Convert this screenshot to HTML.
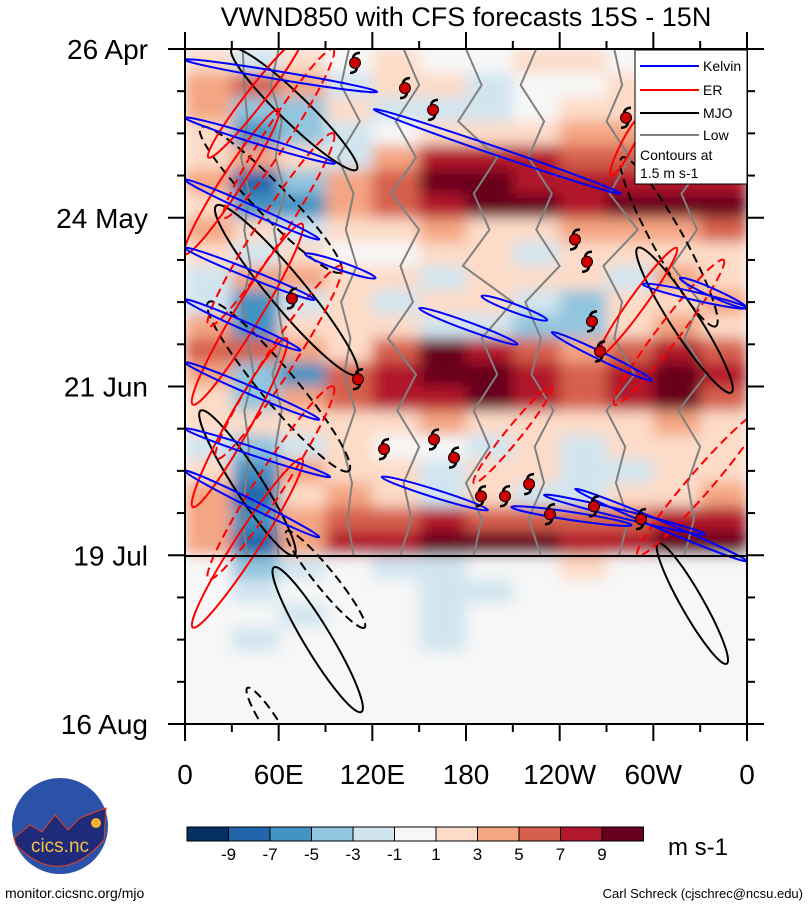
<!DOCTYPE html>
<html><head><meta charset="utf-8"><style>
html,body{margin:0;padding:0;background:#fff;}
svg{display:block;font-family:"Liberation Sans",Arial,sans-serif;}
</style></head><body>
<svg id="chart" width="809" height="907" viewBox="0 0 809 907" xmlns="http://www.w3.org/2000/svg">
<defs>
<clipPath id="plotclip"><rect x="185" y="49" width="562" height="675"/></clipPath>
<filter id="smooth" x="-5%" y="-5%" width="110%" height="110%"><feGaussianBlur stdDeviation="7"/></filter>
</defs>
<text x="466" y="26" font-size="27" text-anchor="middle">VWND850 with CFS forecasts  15S - 15N</text>
<g id="field" clip-path="url(#plotclip)"><rect x="185" y="49" width="562" height="675" fill="#f7f7f7"/><g id="cells" filter="url(#smooth)"></g></g>
<g id="overlays" clip-path="url(#plotclip)"></g>
<line x1="185" y1="556" x2="747" y2="556" stroke="#000" stroke-width="2"/>
<rect x="185" y="49" width="562" height="675" fill="none" stroke="#000" stroke-width="2"/>
<g id="axes"></g>
<g>
<rect x="635" y="50" width="112" height="134" fill="#fff" stroke="#000" stroke-width="1"/>
<line x1="640" y1="66" x2="699" y2="66" stroke="#0000ff" stroke-width="2"/><text x="703" y="71" font-size="14">Kelvin</text>
<line x1="640" y1="90" x2="699" y2="90" stroke="#ff0000" stroke-width="2"/><text x="703" y="95" font-size="14">ER</text>
<line x1="640" y1="113" x2="699" y2="113" stroke="#000" stroke-width="2"/><text x="703" y="118" font-size="14">MJO</text>
<line x1="640" y1="135" x2="699" y2="135" stroke="#808080" stroke-width="2"/><text x="703" y="140" font-size="14">Low</text>
<text x="640" y="160" font-size="14">Contours at</text>
<text x="640" y="178" font-size="14">1.5 m s-1</text>
</g>
<g id="colorbar"></g>
<text x="668" y="855" font-size="24">m s-1</text>
<g>
<circle cx="60" cy="826" r="48" fill="#2a52a8"/>
<path d="M14 838 L30 825 L42 832 L55 815 L68 830 L80 818 L95 812 L106 808 L104 840 Q60 890 16 845Z" fill="#1f2a7a" stroke="#e04020" stroke-width="1"/>
<circle cx="96" cy="823" r="5" fill="#f5b030"/>
<text x="60" y="852" font-size="19" fill="#f5c040" text-anchor="middle">cics.nc</text>
</g>
<text x="5" y="898" font-size="14">monitor.cicsnc.org/mjo</text>
<text x="803" y="898" font-size="13" text-anchor="end">Carl Schreck (cjschrec@ncsu.edu)</text>
</svg>
<script>
const NS="http://www.w3.org/2000/svg";
const palette=["#053061","#2166ac","#4393c3","#92c5de","#d1e5f0","#f7f7f7","#fddbc7","#f4a582","#d6604d","#b2182b","#67001f"];
const cbLabels=["-9","-7","-5","-3","-1","1","3","5","7","9"];
const xTickLabels=["0","60E","120E","180","120W","60W","0"];
const xTickLons=[0,60,120,180,240,300,360];
const yTickLabels=["26 Apr","24 May","21 Jun","19 Jul","16 Aug"];
const yTickDays=[0,28,56,84,112];
// heatmap: rows of 4 days, 12 lon columns of 30 deg
const fieldRows=[
[1,-1,1,0,1,0,0,1,1,0,1,1],
[3,5,3,-1,1,1,-1,0,0,1,3,1],
[3,-3,-3,1,-1,-1,-1,0,1,1,1,3],
[1,-5,-3,-1,0,1,1,1,3,3,3,3],
[1,3,1,-1,3,7,7,7,5,5,7,5],
[3,-7,-3,3,5,9,9,7,7,7,7,7],
[1,-5,-5,3,5,7,9,9,7,9,9,9],
[3,1,-1,1,1,3,1,1,3,3,3,5],
[1,-1,1,0,0,1,1,-1,1,1,1,1],
[-1,3,3,1,1,-1,1,1,1,-1,3,1],
[-1,-5,-1,1,-1,1,1,-1,-3,1,1,3],
[3,-5,1,1,1,-1,-1,-3,-3,1,3,1],
[5,5,3,1,5,9,7,5,3,5,7,5],
[3,-3,-5,5,7,9,9,7,5,7,9,7],
[1,-3,3,5,7,7,9,7,5,7,9,5],
[1,1,1,1,1,3,1,1,1,1,3,1],
[-1,-3,-1,1,0,0,-1,1,-1,1,1,1],
[1,-5,3,1,1,-1,1,1,-1,-1,1,1],
[3,-7,1,3,1,-1,1,-1,-1,1,1,3],
[3,-5,3,5,5,7,5,5,5,5,7,7],
[3,-7,3,7,7,9,9,9,7,7,9,9],
[0,-3,-1,0,-1,-1,0,0,1,0,0,0],
[0,-1,0,0,0,-1,-1,0,0,0,0,0],
[0,0,-1,0,0,-1,0,0,0,0,0,0],
[0,-1,0,0,0,-1,0,0,0,0,0,0],
[0,0,0,0,0,0,0,0,0,0,0,0],
[0,0,0,0,0,0,0,0,0,0,0,0],
[0,0,0,0,0,0,0,0,0,0,0,0]];
// Kelvin contours: [lon1, day1, lon2, day2]
const kelvin=[[0,1.8,123,7.1],[121,10,279,24],[0,11.4,96,19],[0,21.7,86,31.6],[77,34,122,38],[0,33,83,41.6],[0,41.6,74,50],[150,43,213,49],[190,41,232,45],[235,47,299,55],[0,52,86,61.5],[0,63,93,71],[126,71,194,76.5],[209,76,286,79],[230,74,333,80.5],[0,70,86,81],[317,38,360,43],[293,39,360,43],[250,73,360,85]];
// ER contours: [lonCenter, dayCenter, halfLenLon, halfLenDay, dashed]
const er=[[45,8,30,-10,0],[60,14,35,-14,1],[30,22,30,-12,0],[55,30,40,-16,1],[40,44,35,-15,0],[60,52,40,-16,1],[35,62,30,-14,0],[55,72,40,-16,1],[40,82,35,-14,0],[290,42,25,-9,0],[310,47,35,-12,1],[330,72,40,-12,1],[210,64,25,-8,1],[283,16,10,-5,0]];
// MJO contours: [lonCenter, dayCenter, halfLenLon, halfLenDay, dashed]
const mjo=[[70,10,40,10,0],[55,25,45,12,1],[65,40,45,14,0],[60,56,45,14,1],[40,72,30,12,0],[320,45,30,12,0],[310,32,30,14,1],[325,92,22,10,0],[85,98,28,12,0],[90,88,25,8,1],[55,112,15,6,1]];
// Low-frequency lines: lon sampled at lowDays
const lowDays=[0,6,12,18,24,30,36,42,48,54,60,66,72,78,84];
const lowLines=[[37,38,40,36,41,38,42,37,40,44,38,41,39,37,40],[60,55,62,58,64,57,61,59,63,56,62,58,60,57,60],[105,100,112,98,108,103,110,100,106,102,109,101,107,104,108],[140,150,135,148,132,150,138,146,130,148,136,150,140,145,138],[180,190,175,200,185,195,178,210,190,200,185,195,180,190,185],[225,215,230,220,235,225,240,218,228,222,236,224,230,220,228],[275,280,270,285,272,290,268,280,275,288,270,282,276,284,278],[320,330,315,335,318,328,312,330,320,334,316,330,322,326,320]];
// Tropical cyclones: [lon, day]
const cycLon=[108.9,140.9,158.9,282.5,249.8,257.5,260.7,265.9,68.5,110.8,127.5,159.5,172.3,189.6,205,220.4,233.8,262,292.1];
const cycDay=[2.3,6.5,10.1,11.4,31.6,35.3,45.2,50.2,41.4,54.8,66.4,64.8,67.8,74.2,74.2,72.2,77.2,75.9,78];

const X0=185,X1=747,Y0=49,Y1=724;
const xS=l=>X0+l/360*(X1-X0);
const yS=d=>Y0+d/112*(Y1-Y0);
function colorIdx(v){return Math.max(0,Math.min(10,5+Math.sign(v)*Math.ceil(Math.abs(v)/2)));}
function mk(tag,attrs,parent){const e=document.createElementNS(NS,tag);for(const k in attrs)e.setAttribute(k,attrs[k]);parent.appendChild(e);return e;}

const cells=document.getElementById('cells');
fieldRows.forEach((row,r)=>{row.forEach((v,c)=>{
  const x=xS(c*30),y=yS(r*4);
  const el=mk('rect',{x:x,y:y,width:xS((c+1)*30)-x+0.5,height:yS((r+1)*4)-y+0.5,fill:palette[colorIdx(v)]},cells);
  
  
});});

const ov=document.getElementById('overlays');
lowLines.forEach(line=>{
  const pts=line.map((l,i)=>xS(l)+','+yS(lowDays[i])).join(' ');
  const el=mk('polyline',{points:pts,fill:'none',stroke:'#808080','stroke-width':2},ov);
  
  
});
function ell(c,stroke,name,frac,minr){
  const cx=xS(c[0]),cy=yS(c[1]);
  const dx=xS(c[0]+c[2])-cx,dy=yS(c[1]+c[3])-cy;
  const len=Math.hypot(dx,dy),ang=Math.atan2(dy,dx)*180/Math.PI;
  const el=mk('ellipse',{cx:cx,cy:cy,rx:len,ry:Math.max(minr,len*frac),fill:'none',stroke:stroke,'stroke-width':2,transform:`rotate(${ang} ${cx} ${cy})`},ov);
  if(c[4])el.setAttribute('stroke-dasharray','9 5');
  
  
}
mjo.forEach(c=>ell(c,'#000','mjo-contour',0.16,8));
er.forEach(c=>ell(c,'#ff0000','er-contour',0.12,6));
kelvin.forEach(k=>{
  const x1=xS(k[0]),y1=yS(k[1]),x2=xS(k[2]),y2=yS(k[3]);
  const cx=(x1+x2)/2,cy=(y1+y2)/2,len=Math.hypot(x2-x1,y2-y1)/2,ang=Math.atan2(y2-y1,x2-x1)*180/Math.PI;
  const el=mk('ellipse',{cx:cx,cy:cy,rx:len,ry:4,fill:'none',stroke:'#0000ff','stroke-width':2,transform:`rotate(${ang} ${cx} ${cy})`},ov);
  
  
});
cycLon.forEach((l,i)=>{
  const cx=xS(l),cy=yS(cycDay[i]);
  const g=mk('g',{},ov);
  
  
  mk('path',{d:`M${cx-2} ${cy-5} Q${cx-1} ${cy-10} ${cx+5} ${cy-10} M${cx+2} ${cy+5} Q${cx+1} ${cy+10} ${cx-5} ${cy+10}`,fill:'none',stroke:'#000','stroke-width':2.5},g);
  mk('circle',{cx:cx,cy:cy,r:5.5,fill:'#cc0000',stroke:'#000','stroke-width':1},g);
});

const ax=document.getElementById('axes');
xTickLons.forEach((l,i)=>{
  const x=xS(l);
  mk('line',{x1:x,y1:Y1,x2:x,y2:Y1+17,stroke:'#000','stroke-width':2},ax);
  mk('line',{x1:x,y1:Y0,x2:x,y2:Y0-17,stroke:'#000','stroke-width':2},ax);
  const t=mk('text',{x:x,y:784,'font-size':28,'text-anchor':'middle'},ax);
  t.textContent=xTickLabels[i];
  
  
  if(i<xTickLons.length-1){const xm=xS(l+30);
    mk('line',{x1:xm,y1:Y1,x2:xm,y2:Y1+8,stroke:'#000','stroke-width':2},ax);
    mk('line',{x1:xm,y1:Y0,x2:xm,y2:Y0-8,stroke:'#000','stroke-width':2},ax);}
});
yTickDays.forEach((d,i)=>{
  const y=yS(d);
  mk('line',{x1:X0-17,y1:y,x2:X0,y2:y,stroke:'#000','stroke-width':2},ax);
  mk('line',{x1:X1,y1:y,x2:X1+17,y2:y,stroke:'#000','stroke-width':2},ax);
  const t=mk('text',{x:148,y:y+10,'font-size':28,'text-anchor':'end'},ax);
  t.textContent=yTickLabels[i];
  
  
  if(i<yTickDays.length-1){for(let k=1;k<4;k++){const ym=yS(d+7*k);
    mk('line',{x1:X0-8,y1:ym,x2:X0,y2:ym,stroke:'#000','stroke-width':2},ax);
    mk('line',{x1:X1,y1:ym,x2:X1+8,y2:ym,stroke:'#000','stroke-width':2},ax);}}
});

const cb=document.getElementById('colorbar');
const cbX=187,cbW=41.5;
palette.forEach((c,i)=>{
  const el=mk('rect',{x:cbX+i*cbW,y:827,width:cbW,height:14,fill:c,stroke:'#000','stroke-width':1},cb);
  
  
});
cbLabels.forEach((s,i)=>{
  const t=mk('text',{x:cbX+(i+1)*cbW,y:860,'font-size':17,'text-anchor':'middle'},cb);
  t.textContent=s;
  
  
});
</script>
</body></html>
